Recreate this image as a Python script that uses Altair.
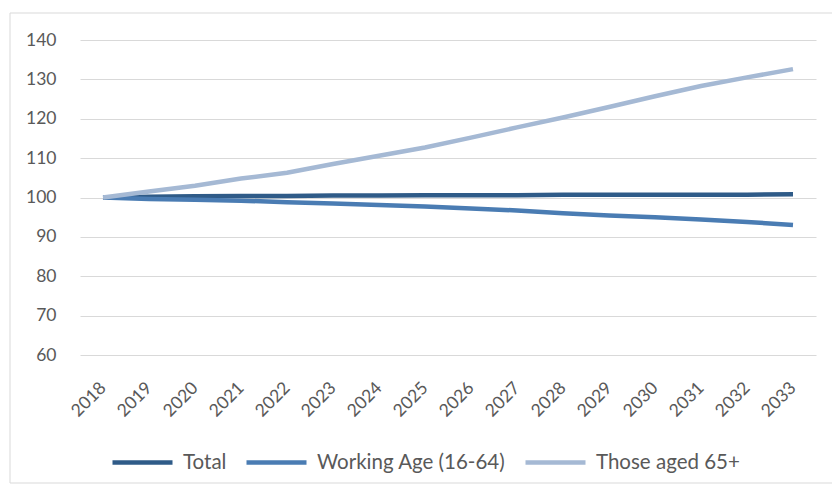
import altair as alt
import pandas as pd

years = [str(y) for y in range(2018, 2034)]
total = [100.0, 100.2, 100.3, 100.4, 100.4, 100.5, 100.5, 100.6, 100.6, 100.6, 100.7, 100.7, 100.7, 100.7, 100.7, 100.8]
working = [100.0, 99.6, 99.4, 99.2, 98.8, 98.5, 98.1, 97.7, 97.2, 96.7, 96.0, 95.4, 95.0, 94.4, 93.8, 93.0]
aged65 = [100.0, 101.5, 103.0, 104.8, 106.3, 108.5, 110.6, 112.7, 115.2, 117.8, 120.3, 123.0, 125.7, 128.3, 130.5, 132.6]

series_names = ["Total", "Working Age (16-64)", "Those aged 65+"]
series_colors = ["#2f5b88", "#4a7cb3", "#a5b9d4"]

rows = []
for name, vals in zip(series_names, [total, working, aged65]):
    for y, v in zip(years, vals):
        rows.append({"Year": y, "Value": v, "Series": name})
df = pd.DataFrame(rows)

FONT = "Lato"
TXT = "#595959"

lines = alt.Chart(df).mark_line(strokeWidth=4.5).encode(
    x=alt.X("Year:O", sort=years,
            scale=alt.Scale(paddingInner=0, paddingOuter=0.5),
            axis=alt.Axis(title=None, labelAngle=-45, labelAlign="right", labelBaseline="middle",
                          labelPadding=30, ticks=False, domain=False, grid=False,
                          labelFont=FONT, labelFontSize=17.5, labelColor=TXT)),
    y=alt.Y("Value:Q", scale=alt.Scale(domain=[60, 140], nice=False, zero=False),
            axis=alt.Axis(title=None, values=[60, 70, 80, 90, 100, 110, 120, 130, 140],
                          ticks=False, domain=False, gridColor="#d9d9d9", gridWidth=1,
                          labelPadding=24, labelFont=FONT, labelFontSize=17.5, labelColor=TXT)),
    color=alt.Color("Series:N", sort=series_names,
                    scale=alt.Scale(domain=series_names, range=series_colors),
                    legend=alt.Legend(title=None, orient="none", direction="horizontal",
                                      legendX=30, legendY=390, symbolType="stroke",
                                      symbolSize=3600, symbolStrokeWidth=4.5,
                                      labelFont=FONT, labelFontSize=20.5, labelColor=TXT,
                                      labelLimit=400, labelOffset=8, columnPadding=10)),
    order=alt.Order("Series:N"),
)

border = alt.Chart(pd.DataFrame({"a": [0]})).mark_rect(fill=None, stroke="#d9d9d9", strokeWidth=1).encode(
    x=alt.value(-70), x2=alt.value(760), y=alt.value(-27), y2=alt.value(443)
)

chart = alt.layer(border, lines).properties(
    width=736, height=315,
    autosize=alt.AutoSizeParams(type="none"),
    padding={"left": 80, "top": 40, "right": 16, "bottom": 129},
    background="white",
).configure_view(stroke=None)

chart.save("out.html", embed_options={"renderer": "svg", "actions": False})
